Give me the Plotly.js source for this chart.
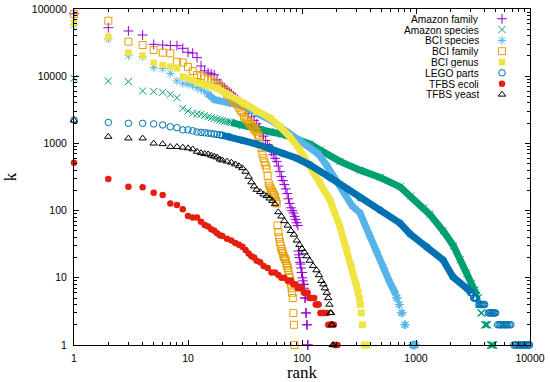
<!DOCTYPE html>
<html>
<head>
<meta charset="utf-8">
<script src="https://cdn.plot.ly/plotly-3.0.1.min.js"></script>
<style>
  html, body { margin: 0; padding: 0; background: #ffffff; }
  #chart { width: 550px; height: 382px; }
</style>
</head>
<body>
<div id="chart"></div>
<script>
// ---------------- data ----------------
const seriesNames = ["Amazon family", "Amazon species", "BCI species", "BCI family",
                     "BCI genus", "LEGO parts", "TFBS ecoli", "TFBS yeast"];

const xTickVals = [1, 10, 100, 1000, 10000];
const xTickText = ["1", "10", "100", "1000", "10000"];
const yTickVals = [1, 10, 100, 1000, 10000, 100000];
const yTickText = ["1", "10", "100", "1000", "10000", "100000"];

// Amazon family
const amazonFamilyRank = [1,2,3,4,5,6,7,8,9,10,11,12,13,14,15,16,17,18,19,20,21,22,23,24,25,26,27,28,29,30,
  32,34,36,38,40,42,44,46,48,50,52,54,56,58,60,62,64,66,68,70,72,74,76,78,80,82,84,86,88,90,92,
  93,94,95,96,97,98,99,100,101,102,103,104,105,106,107,108,109,110,111,112,113];
const amazonFamilyK = [85000,52700,47100,41000,29800,29100,28700,28500,26000,22700,
  22100,18900,14200,12000,11200,10800,10500,8800,7800,7100,
  6600,6200,5800,5500,5100,4800,4500,4200,4000,3800,
  3200,2800,2500,2200,1950,1750,1500,1280,1100,960,
  860,760,680,600,540,460,380,320,280,245,
  210,180,150,128,110,100,92,82,74,66,60,
  25,22,20,17,16,14,12,12,10,9,8,8,7,5,5,3,3,2,2,1,1];

// Amazon species
const amazonSpeciesHeadRank = [1,2,3,4,5,6,7,8,9,10,11,12,13,14,15,16,17,18,19,20,21,22,23,24];
const amazonSpeciesHeadK = [9300,8490,8300,6030,5900,5770,5370,4790,3330,3040,2800,2750,2700,2600,2500,2420,2350,2280,2220,2170,2130,2100,2070,2040];
const amazonSpeciesBandRank = [24,30,40,52,68,90,117,144,215,323,485,725,900,1170,1320,1730,2130,2440,2800,3070,3300,3420];
const amazonSpeciesBandK = [2040,1830,1620,1490,1360,1150,980,800,540,400,310,225,165,110,88,50,30,18.5,11.7,8.3,6.6,5.5];
const amazonSpeciesTailRank = [3460,3490,3520,3560,3590,3620,3700,3740,3790,
  4000,4050,4100,4150,4200,4250,4500,4550,4600,4650,4700,4750,4800];
const amazonSpeciesTailK = [5,5,5,4,4,4,3,3,3,2,2,2,2,2,2,1,1,1,1,1,1,1];

// BCI species
const bciSpeciesHeadRank = [1,2,3,4,5,6,7,8,9,10,11,12,13,14,15];
const bciSpeciesHeadK = [58000,36000,20200,19500,13400,13000,11000,8490,7800,7600,7230,6760,6300,5900,5400];
const bciSpeciesBandRank = [15,17,19,23,29,35,43,53,64,79,96,117,139,165,188,230,275,323,390,450,520,590,640,665];
const bciSpeciesBandK = [5400,4500,4300,3950,3700,3160,2660,2230,1770,1400,1080,880,700,470,330,200,118,92,42,25,14,8.5,6.5,5.6];
const bciSpeciesTailRank = [670,680,690,705,712,720,740,750,760,790,800,810,920,930,940,950,960,970,980,990,1000];
const bciSpeciesTailK = [5,5,5,4,4,4,3,3,3,2,2,2,1,1,1,1,1,1,1,1,1];

// BCI family
const bciFamilyRank = Array.from({length: 86}, (_, i) => i + 1);
const bciFamilyK = [84300,67000,32600,29100,24600,22400,21900,16400,16000,13800,
  11900,10400,10000,9300,9000,8800,8300,7500,7000,6600,
  6000,5500,5000,4700,4400,4100,3800,3400,3100,2900,
  2500,2350,2230,2100,1950,1850,1770,1650,1550,1490,
  1350,1260,1000,850,700,600,520,470,420,330,
  254,230,215,200,190,180,170,160,140,128,
  60,48,40,34,30,27,25,23,21,20,
  19,18,16,15,14,13,11,10,9,8,
  7,6,5,3,2,1];

// BCI genus
const bciGenusHeadRank = [1,2,3,4,5,6,7,8,9,10,11,12,13];
const bciGenusHeadK = [62500,38700,22400,20200,15800,14700,13900,13100,9840,9300,8770,8010,7800];
const bciGenusBandRank = [13,18,23,31,40,53,64,78,96,117,144,176,215,245,271,300,312];
const bciGenusBandK = [7800,6600,5250,3950,2960,2360,1770,1260,800,470,270,144,58,28,15,8,6];
const bciGenusTailRank = [316,320,323,326,329,333,337,341,350,355,360,365,370];
const bciGenusTailK = [5,5,4,4,3,3,2,2,1,1,1,1,1];

// LEGO parts
const legoHeadRank = [1,2,3,4,5,6,7,8,9,10,11,12,13,14,15,16,17,18,19,20];
const legoHeadK = [2230,2050,1990,1990,1950,1880,1770,1710,1590,1590,1540,1480,1460,1440,1420,1400,1380,1360,1340,1320];
const legoBandRank = [20,23,30,40,53,68,90,117,176,250,323,483,724,886,1250,1730,2110,2800,3000,3100];
const legoBandK = [1320,1260,1110,980,845,710,600,480,310,210,155,102,65,45,28.7,18.4,10.3,7,6,6];
const legoTailRank = [3200,3250,3300,3350,3400,
  3550,3625,3700,3775,3850,3925,4000,
  4300,4400,4500,4600,4700,4800,4900,5000,
  5200,5350,5500,5650,5800,5950,6100,6250,6400,6600,6800,
  7200,7400,7600,7800,8000,8200,8400,8600,8800,9000,9200,9400,9600,9800,9900];
const legoTailK = [5,5,5,5,5,
  4,4,4,4,4,4,4,
  3,3,3,3,3,3,3,3,
  2,2,2,2,2,2,2,2,2,2,2,
  1,1,1,1,1,1,1,1,1,1,1,1,1,1,1];

// TFBS ecoli
const ecoliRank = [1,2,3,4,5,6,7,8,9,10,11,12,13,14,15,16,17,18,19,20,
  22,24,26,28,30,32,34,36,38,40,
  43,46,50,54,58,62,66,70,75,80,84,88,92,96,100,104,108,112,116,120,124,128,132,136,140,
  145,150,155,160,165,170,175,180,185,190,195,200,205];
const ecoliK = [516,295,227,222,185,170,128,121,105,83,79,79,68,61,58,53,50,46,43,42,
  38,36,33,31,29,26,23,21,20,18,
  17,15,14,12,12,11,10,10,9,9,8,8,7,7,7,6,6,6,5,5,5,5,4,4,4,
  3,3,3,3,3,2,2,2,2,2,1,1,1];

// TFBS yeast
const yeastRank = [1,2,3,4,5,6,7,8,9,10,11,12,13,14,15,16,17,18,19,20,
  22,24,26,28,30,32,34,36,38,40,
  43,46,49,52,55,58,62,66,70,75,80,85,90,95,100,105,110,117,125,134,141,148,154,159,165,170,174,177,180,182,184,186,188];
const yeastK = [2200,1260,1190,1190,1000,980,890,890,870,850,820,755,720,700,690,660,640,620,580,560,
  540,520,490,460,430,380,320,265,230,205,
  190,175,165,152,140,125,95,82,70,60,50,44,36,31,27,24,21,18,15,13,11,9,8,7,6,5,4,3,3,2,2,1,1];

// ---------------- styles ----------------
const styles = [
  {color: "#9400d3", symbol: "cross-thin-open", size: 7, lw: 1, band: 6},
  {color: "#009e73", symbol: "x-thin-open", size: 7, lw: 1, band: 7},
  {color: "#56b4e9", symbol: "asterisk-open", size: 7, lw: 1, band: 7},
  {color: "#e69f00", symbol: "square-open", size: 7, lw: 1, band: 6},
  {color: "#f0e442", symbol: "square", size: 6.5, lw: 0, band: 7},
  {color: "#0072b2", symbol: "circle-open", size: 6.5, lw: 1, band: 7},
  {color: "#e51e10", symbol: "circle", size: 6.5, lw: 0, band: 6},
  {color: "#000000", symbol: "triangle-up-open", size: 6.5, lw: 1, band: 6}
];

function mk(i) {
  const s = styles[i];
  return {symbol: s.symbol, size: s.size, color: s.color,
          line: {color: s.color, width: s.lw}};
}
function pts(i, x, y) {
  return {type: "scatter", mode: "markers", x: x, y: y, marker: mk(i),
          cliponaxis: false, showlegend: false, hoverinfo: "skip"};
}
function band(i, x, y) {
  return {type: "scatter", mode: "lines+markers", x: x, y: y, marker: mk(i),
          line: {color: styles[i].color, width: styles[i].band},
          cliponaxis: false, showlegend: false, hoverinfo: "skip"};
}

const traces = [
  pts(0, amazonFamilyRank, amazonFamilyK),
  pts(1, amazonSpeciesHeadRank, amazonSpeciesHeadK),
  band(1, amazonSpeciesBandRank, amazonSpeciesBandK),
  pts(1, amazonSpeciesTailRank, amazonSpeciesTailK),
  pts(2, bciSpeciesHeadRank, bciSpeciesHeadK),
  band(2, bciSpeciesBandRank, bciSpeciesBandK),
  pts(2, bciSpeciesTailRank, bciSpeciesTailK),
  pts(3, bciFamilyRank, bciFamilyK),
  pts(4, bciGenusHeadRank, bciGenusHeadK),
  band(4, bciGenusBandRank, bciGenusBandK),
  pts(4, bciGenusTailRank, bciGenusTailK),
  pts(5, legoHeadRank, legoHeadK),
  band(5, legoBandRank, legoBandK),
  pts(5, legoTailRank, legoTailK),
  pts(6, ecoliRank, ecoliK),
  pts(7, yeastRank, yeastK)
];

// hand-made gnuplot-style key: right-aligned text, symbol on the right
const keyTextX = 0.891, keySymX = 0.9386, keyTop = 0.971, keyStep = 0.0322;
const annotations = [];
seriesNames.forEach((name, i) => {
  const yy = keyTop - i * keyStep;
  annotations.push({xref: "paper", yref: "paper", x: keyTextX, y: yy, xanchor: "right",
    yanchor: "middle", text: name, showarrow: false, borderpad: 0, height: 10.4,
    font: {family: "Liberation Sans, Arial, sans-serif", size: 10.2, color: "#000"}});
  traces.push({type: "scatter", mode: "markers", x: [keySymX], y: [yy], xaxis: "x2", yaxis: "y2",
    marker: mk(i), cliponaxis: false, showlegend: false, hoverinfo: "skip"});
});

const axisCommon = {
  type: "log", showline: true, linecolor: "#000", linewidth: 1, mirror: "ticks",
  ticks: "inside", ticklen: 5, tickwidth: 1, tickcolor: "#000", showgrid: false, zeroline: false,
  tickmode: "array",
  minor: {ticks: "inside", ticklen: 3, dtick: "D1", tickcolor: "#000", tickwidth: 1, showgrid: false},
  tickfont: {family: "Liberation Sans, Arial, sans-serif", size: 10.5, color: "#000"},
  automargin: false
};

const layout = {
  width: 550, height: 382,
  margin: {l: 74, r: 20, t: 9, b: 37},
  paper_bgcolor: "#ffffff", plot_bgcolor: "#ffffff",
  showlegend: false,
  font: {family: "Liberation Sans, Arial, sans-serif", size: 10.5, color: "#000"},
  xaxis: Object.assign({}, axisCommon, {
    range: [0, 4], tickvals: xTickVals, ticktext: xTickText, ticklabelstandoff: 3,
    title: {text: "rank", font: {family: "Liberation Serif, Times New Roman, serif", size: 17}, standoff: 5}
  }),
  yaxis: Object.assign({}, axisCommon, {
    range: [0, 5], tickvals: yTickVals, ticktext: yTickText, ticklabelstandoff: 4,
    title: {text: "k", font: {family: "Liberation Serif, Times New Roman, serif", size: 17}, standoff: 10}
  }),
  xaxis2: {overlaying: "x", range: [0, 1], visible: false, fixedrange: true},
  yaxis2: {overlaying: "y", range: [0, 1], visible: false, fixedrange: true},
  annotations: annotations
};

Plotly.newPlot("chart", traces, layout, {staticPlot: true, displayModeBar: false});
</script>
</body>
</html>
